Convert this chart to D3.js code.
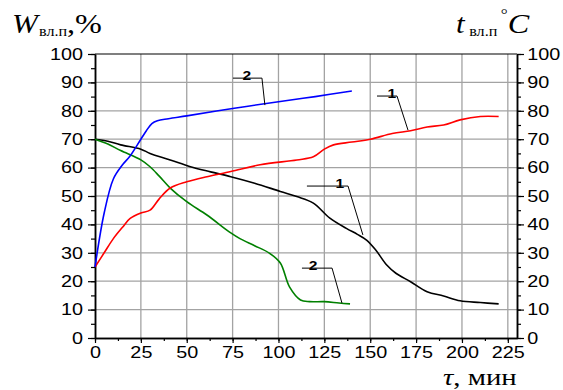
<!DOCTYPE html>
<html>
<head>
<meta charset="utf-8">
<script src="https://cdn.jsdelivr.net/npm/d3@7"></script>
<style>
  body { margin: 0; background: #fff; }
  svg { display: block; }
  .tick text { font-family: "Liberation Sans", Arial, sans-serif; font-size: 16.5px; fill: #000; }
</style>
</head>
<body>
<div id="chart"></div>
<script>
// curve 2 (blue) - temperature
var blueT = [0, 5, 10, 15, 19, 25, 28, 31, 34, 40, 50, 75, 100, 120, 140];
var blueV = [25, 44, 56, 61, 64, 70, 73, 75.5, 76.5, 77.2, 78.2, 80.8, 83.2, 85, 87];
// curve 1 (red) - temperature
var redT = [0, 5, 10, 15, 19, 25, 30, 35, 41, 50, 61, 74, 90, 110, 119, 125, 130, 140, 150, 162, 172, 181, 190, 199, 210, 220];
var redV = [25, 30, 35, 39, 42, 44, 45, 49, 52.8, 55, 56.8, 58.6, 61, 62.7, 63.8, 66.5, 68, 69, 70, 72, 73, 74.3, 75, 76.8, 78, 78];
// curve 1 (black) - moisture
var blackT = [0, 7, 14, 25, 30, 41, 52, 63, 74, 87, 101, 110, 119, 128, 137, 143, 148, 153, 159, 164, 172, 181, 190, 199, 210, 220];
var blackV = [70, 69.3, 68, 66.5, 65, 62.7, 60.3, 58.5, 56.8, 54.5, 51.6, 49.8, 47.5, 42.2, 38.6, 36.5, 34.5, 31, 25.7, 22.8, 19.8, 16.3, 14.8, 13.1, 12.5, 12];
// curve 2 (green) - moisture
var greenT = [0, 7, 14, 25, 30, 35, 41, 50, 61, 74, 79, 87, 95, 101, 106, 112, 117, 125, 133, 139];
var greenV = [70, 68.3, 66, 62.7, 60.3, 57, 52.8, 48, 43.3, 37, 35, 32.5, 29.9, 26.4, 18, 13.4, 12.8, 12.8, 12.3, 12];

var xTicks = [0, 25, 50, 75, 100, 125, 150, 175, 200, 225];
var yTicks = [0, 10, 20, 30, 40, 50, 60, 70, 80, 90, 100];

// leader labels: [text, label t, line start t, line end t, line v, pointer t, pointer v]
var leaders = [
  ["2", 82.8, 75.2, 91, 91.5, 92.6, 82.0],
  ["1", 161.8, 153.7, 164.6, 85.2, 170.6, 73.2],
  ["1", 133.5, 115.5, 137.9, 53.5, 146, 36.3],
  ["2", 118.8, 112.8, 129.2, 24.6, 134.6, 12.3]
];

var width = 563, height = 390;
var svg = d3.select("#chart").append("svg").attr("width", width).attr("height", height);

var x = d3.scaleLinear().domain([0, 230]).range([95, 517]);
var y = d3.scaleLinear().domain([0, 100]).range([338, 54]);

// grid
var grid = svg.append("g").attr("stroke", "#a3a3a3").attr("stroke-width", 1.3);
grid.selectAll("line.v").data(xTicks.slice(1)).enter().append("line")
  .attr("x1", d => x(d)).attr("x2", d => x(d)).attr("y1", y(0)).attr("y2", y(100));
grid.selectAll("line.h").data(yTicks.slice(1, 10)).enter().append("line")
  .attr("x1", x(0)).attr("x2", x(230)).attr("y1", d => y(d)).attr("y2", d => y(d));
svg.append("line").attr("x1", x(0)).attr("x2", x(230)).attr("y1", y(100)).attr("y2", y(100))
  .attr("stroke", "#000").attr("stroke-width", 1.2);

// axes
function styleAxis(g) {
  g.select(".domain").attr("stroke", "#000").attr("stroke-width", 1.5);
  g.selectAll(".tick line").attr("stroke", "#000").attr("stroke-width", 1.2);
}
var minorY = d3.range(0, 101, 5), minorX = d3.range(0, 230, 12.5);

svg.append("g").attr("transform", "translate(" + x(0) + ",0)")
  .call(d3.axisLeft(y).tickValues(minorY).tickSize(4).tickSizeOuter(0).tickFormat("")).call(styleAxis);
var gl = svg.append("g").attr("transform", "translate(" + x(0) + ",0)")
  .call(d3.axisLeft(y).tickValues(yTicks).tickSize(7).tickSizeOuter(0)).call(styleAxis);
gl.selectAll(".tick text").attr("x", -10).attr("transform", "scale(1.2,1)");

svg.append("g").attr("transform", "translate(" + x(230) + ",0)")
  .call(d3.axisRight(y).tickValues(minorY).tickSize(4).tickSizeOuter(0).tickFormat("")).call(styleAxis);
var gr = svg.append("g").attr("transform", "translate(" + x(230) + ",0)")
  .call(d3.axisRight(y).tickValues(yTicks).tickSize(7).tickSizeOuter(0)).call(styleAxis);
gr.selectAll(".tick text").attr("x", 8.5).attr("transform", "scale(1.2,1)");

svg.append("g").attr("transform", "translate(0," + y(0) + ")")
  .call(d3.axisBottom(x).tickValues(minorX).tickSize(3).tickSizeOuter(0).tickFormat("")).call(styleAxis);
var gb = svg.append("g").attr("transform", "translate(0," + y(0) + ")")
  .call(d3.axisBottom(x).tickValues(xTicks).tickSize(5).tickSizeOuter(0)).call(styleAxis);
gb.selectAll(".tick text").attr("y", 8).attr("transform", "scale(1.2,1)");

// curves
var line = d3.line().x(d => x(d[0])).y(d => y(d[1])).curve(d3.curveCatmullRom.alpha(0.5));
function draw(ts, vs, color) {
  svg.append("path").datum(d3.zip(ts, vs)).attr("d", line)
    .attr("fill", "none").attr("stroke", color).attr("stroke-width", 1.6);
}
draw(blackT, blackV, "#000000");
draw(greenT, greenV, "#008000");
draw(redT, redV, "#ff0000");
draw(blueT, blueV, "#0000ff");

// leader labels
leaders.forEach(function(d) {
  var ly = y(d[4]);
  svg.append("polyline")
    .attr("points", [[x(d[2]), ly], [x(d[3]), ly], [x(d[5]), y(d[6])]].map(p => p.join(",")).join(" "))
    .attr("fill", "none").attr("stroke", "#000").attr("stroke-width", 1);
  svg.append("text").attr("transform", "translate(" + x(d[1]) + "," + (ly + 2) + ") scale(1.2,1)")
    .attr("text-anchor", "middle")
    .style("font-family", "Liberation Sans, Arial, sans-serif").style("font-weight", "bold").style("font-size", "13px")
    .text(d[0]);
});

// axis titles
var serif = "'Liberation Serif', 'Times New Roman', serif";
var tl = svg.append("text").attr("transform", "translate(12,33) scale(1.15,1)").style("font-family", serif);
tl.append("tspan").style("font-style", "italic").style("font-size", "27px").text("W");
tl.append("tspan").style("font-size", "14px").attr("dy", 3).attr("dx", 1).text("вл.п");
tl.append("tspan").style("font-size", "28px").attr("dy", -3).text(",%");

var tr = svg.append("text").attr("transform", "translate(456,33) scale(1.15,1)").style("font-family", serif);
tr.append("tspan").style("font-style", "italic").style("font-size", "27px").text("t");
tr.append("tspan").style("font-size", "14px").attr("dy", 3).attr("dx", 4).text("вл.п");
tr.append("tspan").style("font-size", "15px").attr("dy", -17).attr("dx", 3).text("°");
tr.append("tspan").style("font-style", "italic").style("font-size", "28px").attr("dy", 14).text("C");

var tb = svg.append("text").attr("transform", "translate(443,384.5) scale(1.2,1)").style("font-family", serif);
tb.append("tspan").style("font-style", "italic").style("font-size", "24px").text("τ");
tb.append("tspan").style("font-size", "24px").text(", мин");
</script>
</body>
</html>
